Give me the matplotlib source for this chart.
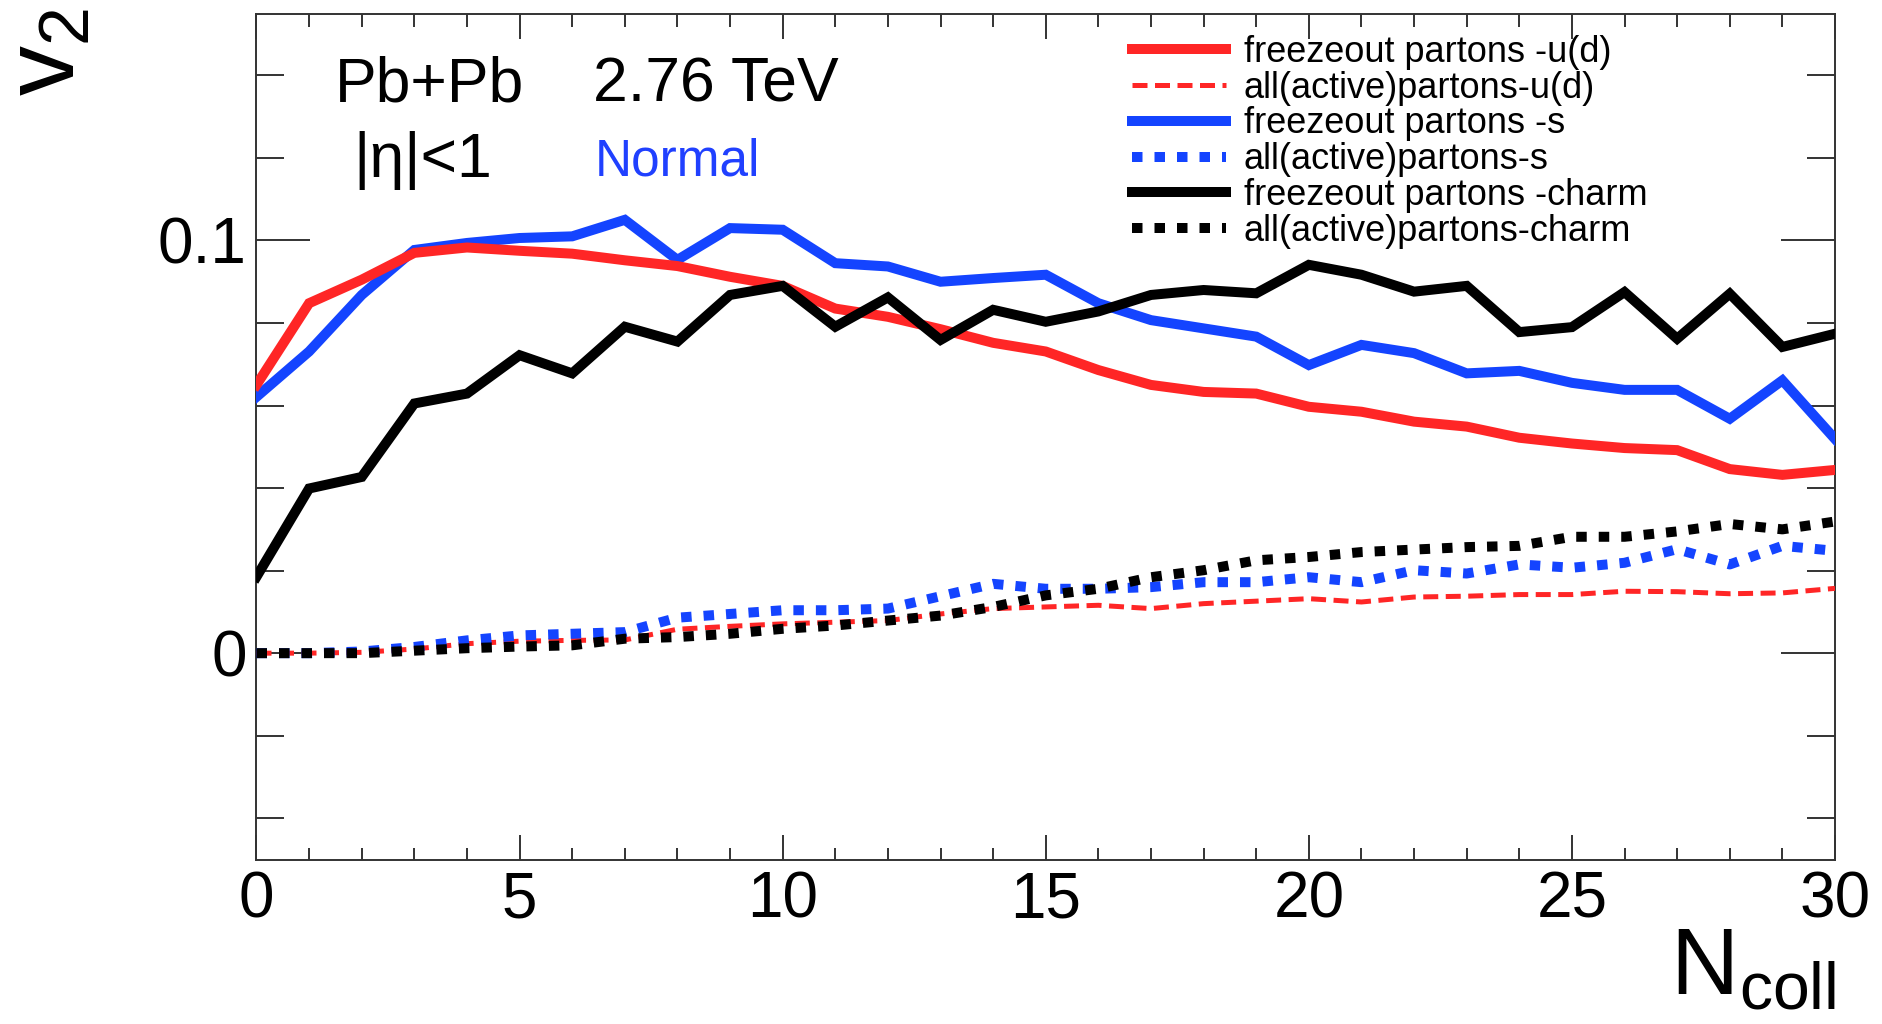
import matplotlib
matplotlib.use("Agg")
import matplotlib.pyplot as plt
import numpy as np
from matplotlib.ticker import MultipleLocator, FixedLocator, FuncFormatter

plt.rcParams['font.family'] = ['Liberation Sans', 'DejaVu Sans']
plt.rcParams['mathtext.default'] = 'regular'

# ---------------------------------------------------------------- data
n_coll = np.arange(0, 31)

# freezeout partons
v2_fo_ud = [0.0650, 0.0848, 0.0905, 0.0970, 0.0983, 0.0975, 0.0968, 0.0952, 0.0938, 0.0912,
            0.0890, 0.0835, 0.0815, 0.0785, 0.0752, 0.0731, 0.0686, 0.0650, 0.0633, 0.0629,
            0.0597, 0.0585, 0.0561, 0.0549, 0.0522, 0.0508, 0.0497, 0.0492, 0.0446, 0.0432,
            0.0444]
v2_fo_s = [0.0621, 0.0731, 0.0868, 0.0977, 0.0994, 0.1006, 0.1010, 0.1050, 0.0953, 0.1030,
           0.1026, 0.0945, 0.0937, 0.0900, 0.0909, 0.0917, 0.0848, 0.0807, 0.0787, 0.0767,
           0.0698, 0.0747, 0.0727, 0.0678, 0.0684, 0.0655, 0.0638, 0.0638, 0.0568, 0.0661,
           0.0519]
v2_fo_c = [0.0185, 0.0399, 0.0427, 0.0605, 0.0629, 0.0722, 0.0678, 0.0791, 0.0755, 0.0868,
           0.0890, 0.0791, 0.0862, 0.0759, 0.0832, 0.0803, 0.0828, 0.0868, 0.0880, 0.0872,
           0.0941, 0.0917, 0.0876, 0.0890, 0.0778, 0.0790, 0.0875, 0.0762, 0.0871, 0.0742,
           0.0774]

# all (active) partons
v2_all_ud = [0.0000, 0.0000, 0.0002, 0.0010, 0.0023, 0.0029, 0.0031, 0.0032, 0.0058, 0.0065,
             0.0071, 0.0075, 0.0079, 0.0095, 0.0108, 0.0112, 0.0116, 0.0108, 0.0120, 0.0126,
             0.0132, 0.0124, 0.0136, 0.0138, 0.0142, 0.0142, 0.0150, 0.0149, 0.0144, 0.0146,
             0.0157]
v2_all_s = [0.0000, 0.0000, 0.0004, 0.0015, 0.0031, 0.0043, 0.0047, 0.0051, 0.0086, 0.0095,
            0.0104, 0.0104, 0.0108, 0.0138, 0.0168, 0.0156, 0.0156, 0.0160, 0.0172, 0.0172,
            0.0184, 0.0172, 0.0201, 0.0193, 0.0215, 0.0207, 0.0219, 0.0252, 0.0215, 0.0260,
            0.0248]
v2_all_c = [0.0000, 0.0000, 0.0000, 0.0006, 0.0012, 0.0016, 0.0019, 0.0035, 0.0039, 0.0047,
            0.0059, 0.0067, 0.0079, 0.0091, 0.0112, 0.0140, 0.0156, 0.0184, 0.0201, 0.0225,
            0.0233, 0.0245, 0.0251, 0.0257, 0.0260, 0.0282, 0.0282, 0.0295, 0.0313, 0.0300,
            0.0319]

labels = ['freezeout partons -u(d)', 'all(active)partons-u(d)',
          'freezeout partons -s', 'all(active)partons-s',
          'freezeout partons -charm', 'all(active)partons-charm']

x_major = [0, 5, 10, 15, 20, 25, 30]
y_major = [0.0, 0.1]

RED = '#ff2626'
BLUE = '#1444ff'
BLACK = '#000000'

# ---------------------------------------------------------------- figure
W, H = 1883, 1024
fig = plt.figure(figsize=(W / 100, H / 100), dpi=100)
ax = fig.add_axes([256.5 / W, 1 - 859.5 / H, (1835 - 256.5) / W, (859.5 - 13.5) / H])

lw = 7.2
dot = (0, (1.05, 1.2))
dash = (0, (3.0, 1.5))

h_fo_s, = ax.plot(n_coll, v2_fo_s, color=BLUE, lw=lw, solid_joinstyle='miter', zorder=3)
h_fo_ud, = ax.plot(n_coll, v2_fo_ud, color=RED, lw=lw, solid_joinstyle='miter', zorder=4)
h_fo_c, = ax.plot(n_coll, v2_fo_c, color=BLACK, lw=lw, solid_joinstyle='miter', zorder=5)
h_all_ud, = ax.plot(n_coll, v2_all_ud, color=RED, lw=3.6, ls=dash, dash_capstyle='butt', zorder=3)
h_all_s, = ax.plot(n_coll, v2_all_s, color=BLUE, lw=lw, ls=dot, dash_capstyle='butt', zorder=3.5)
h_all_c, = ax.plot(n_coll, v2_all_c, color=BLACK, lw=lw, ls=dot, dash_capstyle='butt', zorder=4)

ax.set_xlim(0, 30)
ax.set_ylim(-0.05, 0.155)

# ROOT-like frame: inward ticks on every side
ax.xaxis.set_major_locator(FixedLocator(x_major))
ax.xaxis.set_minor_locator(MultipleLocator(1))
ax.yaxis.set_major_locator(FixedLocator(y_major))
ax.yaxis.set_minor_locator(MultipleLocator(0.02))
ax.xaxis.set_major_formatter(FuncFormatter(lambda v, p: f'{v:g}'))
ax.yaxis.set_major_formatter(FuncFormatter(lambda v, p: f'{v:g}'))
ax.tick_params(axis='both', which='both', direction='in', top=True, right=True,
               color='#333333', width=1.4, labelsize=46)
ax.tick_params(axis='x', which='major', length=18, pad=8)
ax.tick_params(axis='x', which='minor', length=9)
ax.tick_params(axis='y', which='major', length=39, pad=7)
ax.tick_params(axis='y', which='minor', length=20)
for sp in ax.spines.values():
    sp.set_color('#333333')
    sp.set_linewidth(1.4)

# axis titles
fig.text(74 / W, 1 - 8 / H, r'$v_2$', fontsize=72, rotation=90, rotation_mode='anchor',
         ha='right', va='baseline')
fig.text(1836 / W, 1 - 994 / H, r'$N_{coll}$', fontsize=68, ha='right', va='baseline')

# annotations
fig.text(335 / W, 1 - 101.7 / H, 'Pb+Pb', fontsize=45, ha='left', va='baseline')
fig.text(593 / W, 1 - 101.7 / H, '2.76 TeV', fontsize=45, ha='left', va='baseline')
fig.text(353 / W, 1 - 176.7 / H, '|η|<1', fontsize=45, ha='left', va='baseline')
fig.text(595 / W, 1 - 175 / H, 'Normal', fontsize=37, color='#2040ff', ha='left', va='baseline')

handles = [h_fo_ud, h_all_ud, h_fo_s, h_all_s, h_fo_c, h_all_c]
leg = ax.legend(handles, labels, loc='upper left', bbox_to_anchor=(1132 / W, 1 - 35 / H),
                bbox_transform=fig.transFigure, frameon=False, fontsize=26,
                handlelength=2.6, handletextpad=0.5, labelspacing=0.02,
                borderpad=0, borderaxespad=0)

fig.savefig('out.png', dpi=100)
